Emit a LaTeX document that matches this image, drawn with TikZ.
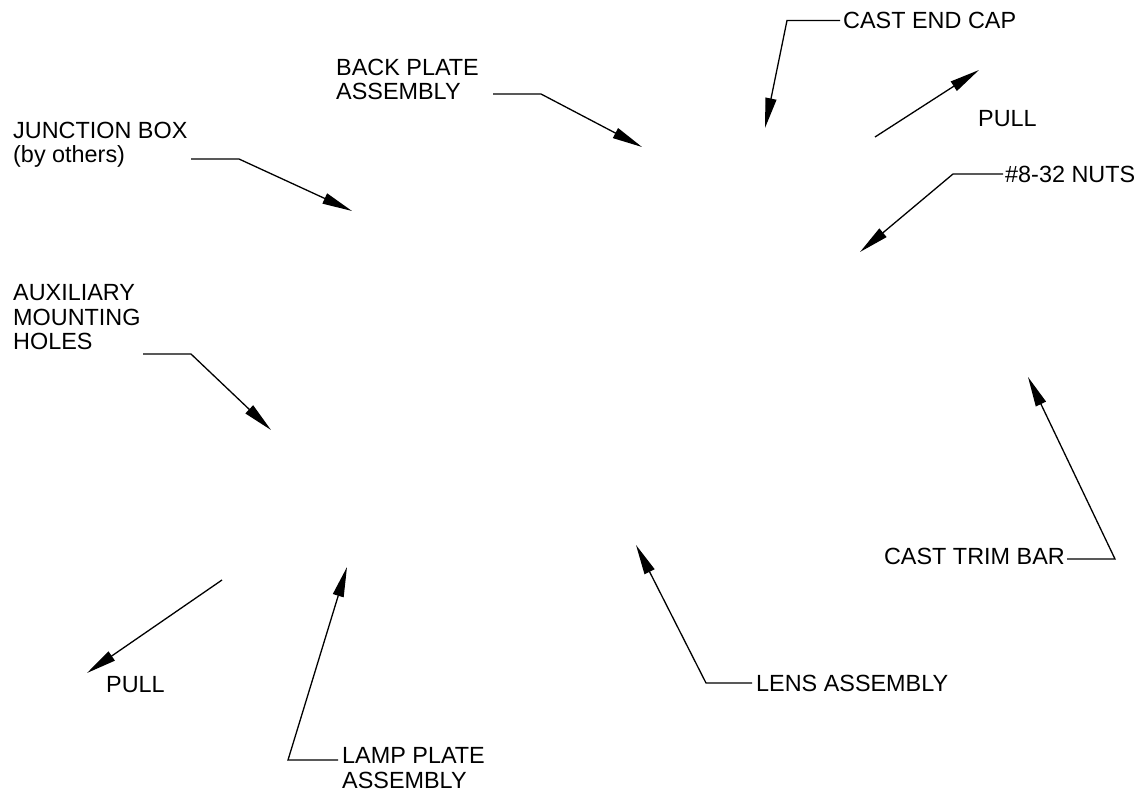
\documentclass[tikz,border=0pt]{standalone}
\usepackage{fontspec}
\setmainfont{Liberation Sans}
\usetikzlibrary{arrows.meta}
\begin{document}
\begin{tikzpicture}[x=1pt,y=-1pt,
  lbl/.style={inner sep=0pt,align=left,font=\fontsize{23.4}{24.5}\selectfont},
  leader/.style={line width=1.3pt,-{Triangle[length=30pt,width=11pt]}}]
\useasboundingbox (0,0) rectangle (1141,794);
% labels (base = baseline of last line)
\node[lbl,anchor=base west] (cap) at (843,28.5) {CAST END CAP};
\node[lbl,anchor=base west] (pullA) at (978,126.5) {PULL};
\node[lbl,anchor=base west] (back) at (336,100) {BACK PLATE\\ASSEMBLY};
\node[lbl,anchor=base west] (jbox) at (13,163) {JUNCTION BOX\\(by others)};
\node[lbl,anchor=base west] (nuts) at (1005,183) {\#8-32 NUTS};
\node[lbl,anchor=base west] (aux) at (13,350) {AUXILIARY\\MOUNTING\\HOLES};
\node[lbl,anchor=base east] (trim) at (1065,564) {CAST TRIM BAR};
\node[lbl,anchor=base west] (lens) at (756,691) {LENS ASSEMBLY};
\node[lbl,anchor=base west] (lamp) at (342,788) {LAMP PLATE\\ASSEMBLY};
\node[lbl,anchor=base west] (pullB) at (106,692) {PULL};
% leader points
\coordinate (capS) at (840,20.5); \coordinate (capK) at (787,20.5); \coordinate (capT) at (765,128);
\coordinate (pAS) at (875,137); \coordinate (pAT) at (979,70);
\coordinate (backS) at (493,94); \coordinate (backK) at (541,94); \coordinate (backT) at (642,147);
\coordinate (jS) at (191,159); \coordinate (jK) at (239,159); \coordinate (jT) at (352,211);
\coordinate (nS) at (1003,174); \coordinate (nK) at (953,174); \coordinate (nT) at (860,252);
\coordinate (aS) at (143,354); \coordinate (aK) at (191,354); \coordinate (aT) at (271,430);
\coordinate (tS) at (1067,559); \coordinate (tK) at (1115,559); \coordinate (tT) at (1028,377);
\coordinate (lS) at (752,683); \coordinate (lK) at (706,683); \coordinate (lT) at (636,545);
\coordinate (mS) at (338,760); \coordinate (mK) at (288,760); \coordinate (mT) at (347,567);
\coordinate (pBS) at (222,580); \coordinate (pBT) at (87,673);
% leaders
\draw[leader] (capS) -- (capK) -- (capT);
\draw[leader] (pAS) -- (pAT);
\draw[leader] (backS) -- (backK) -- (backT);
\draw[leader] (jS) -- (jK) -- (jT);
\draw[leader] (nS) -- (nK) -- (nT);
\draw[leader] (aS) -- (aK) -- (aT);
\draw[leader] (tS) -- (tK) -- (tT);
\draw[leader] (lS) -- (lK) -- (lT);
\draw[leader] (mS) -- (mK) -- (mT);
\draw[leader] (pBS) -- (pBT);
\end{tikzpicture}
\end{document}
